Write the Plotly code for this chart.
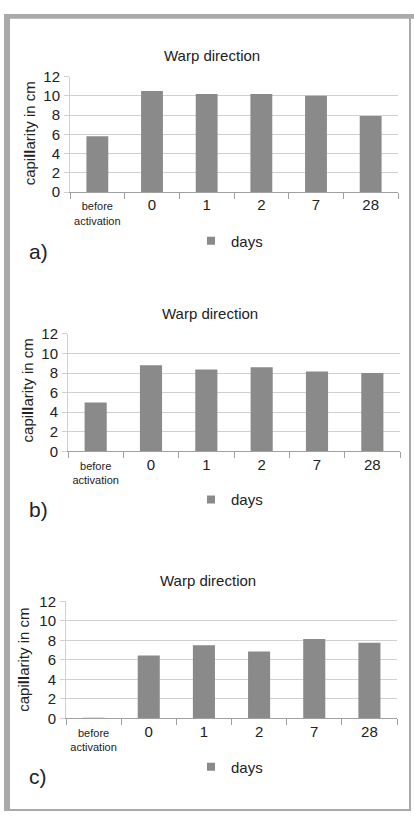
import plotly.graph_objects as go

W, H = 414, 821

categories = ["before activation", "0", "1", "2", "7", "28"]
tick_labels = ["before<br>activation", "<span style='font-size:15px'>0</span>",
               "<span style='font-size:15px'>1</span>", "<span style='font-size:15px'>2</span>",
               "<span style='font-size:15px'>7</span>", "<span style='font-size:15px'>28</span>"]
values_a = [5.8, 10.5, 10.2, 10.2, 10.0, 7.9]
values_b = [5.0, 8.8, 8.35, 8.6, 8.15, 8.0]
values_c = [0.05, 6.45, 7.5, 6.85, 8.15, 7.75]
panel_labels = ["a)", "b)", "c)"]
chart_title = "Warp direction"
y_title = "capi<b>ll</b>arity in cm"
legend_name = "days"
y_ticks = [0, 2, 4, 6, 8, 10, 12]

BAR = "#8a8a8a"
TXT = "#222222"
GRID = "#d0d0d0"
FRAME = "#aaaaaa"
FONT = "Liberation Sans, Arial, sans-serif"


def fx(x):
    return x / W


def fy(y):
    return 1 - y / H


panels = [
    dict(vals=values_a, x0=70, x1=398, yt=69, yb=187, tx=212, ty=47, yx=29, yy=127, ly=237, lab_y=248),
    dict(vals=values_b, x0=68, x1=400, yt=331.7, yb=451.7, tx=210, ty=311, yx=27.5, yy=390, ly=501, lab_y=511),
    dict(vals=values_c, x0=66, x1=397, yt=605, yb=724.3, tx=208, ty=583.5, yx=24, yy=664.5, ly=774, lab_y=784),
]

fig = go.Figure()
annotations = []
layout = {}
for i, p in enumerate(panels):
    n = "" if i == 0 else str(i + 1)
    xa, ya = "x" + n, "y" + n
    leg = "legend" + n
    fig.add_trace(go.Bar(x=categories, y=p["vals"], marker=dict(color=BAR, line=dict(width=0)),
                         xaxis=xa, yaxis=ya, showlegend=False, hoverinfo="skip"))
    fig.add_trace(go.Scatter(x=[None], y=[None], mode="markers", name=legend_name,
                             marker=dict(symbol="square", size=8, color=BAR),
                             xaxis=xa, yaxis=ya, legend=leg, showlegend=True))
    layout["xaxis" + n] = dict(
        domain=[fx(p["x0"]), fx(p["x1"])], anchor=ya, type="category",
        tickmode="array", tickvals=categories, ticktext=tick_labels, tickangle=0,
        showgrid=False, showline=True, linecolor="#a0a0a0", linewidth=1,
        ticks="outside", tickson="boundaries", ticklen=6, tickcolor="#a0a0a0",
        tickfont=dict(size=11, color=TXT, family=FONT), ticklabelstandoff=4,
        fixedrange=True, zeroline=False,
    )
    layout["yaxis" + n] = dict(
        domain=[fy(p["yb"]), fy(p["yt"])], anchor=xa, range=[0, 12],
        tickmode="array", tickvals=y_ticks,
        showgrid=True, gridcolor=GRID, gridwidth=1,
        showline=True, linecolor=GRID, linewidth=1,
        ticks="outside", ticklen=5, tickcolor=GRID,
        tickfont=dict(size=15, color=TXT, family=FONT), ticklabelstandoff=1,
        zeroline=False, fixedrange=True,
    )
    layout[leg] = dict(
        x=fx(232 - 41), y=fy(p["ly"]), xanchor="left", yanchor="middle",
        font=dict(size=15, color=TXT, family=FONT), bgcolor="rgba(0,0,0,0)",
        itemwidth=30, borderwidth=0,
    )
    annotations.append(dict(text=chart_title, x=fx(p["tx"]), y=fy(p["ty"]), xref="paper", yref="paper",
                            xanchor="center", yanchor="middle", showarrow=False,
                            font=dict(size=15, color=TXT, family=FONT)))
    annotations.append(dict(text=y_title, x=fx(p["yx"]), y=fy(p["yy"]), xref="paper", yref="paper",
                            xanchor="center", yanchor="middle", showarrow=False, textangle=-90,
                            font=dict(size=15, color=TXT, family=FONT)))
    annotations.append(dict(text=panel_labels[i], x=fx(27), y=fy(p["lab_y"]), xref="paper", yref="paper",
                            xanchor="left", yanchor="middle", showarrow=False,
                            font=dict(size=21, color=TXT, family=FONT)))

shapes = [
    dict(type="rect", xref="paper", yref="paper", x0=fx(4), x1=fx(414), y0=fy(10), y1=fy(5),
         fillcolor=FRAME, line=dict(width=0), layer="below"),
    dict(type="rect", xref="paper", yref="paper", x0=fx(4), x1=fx(10), y0=fy(819), y1=fy(5),
         fillcolor=FRAME, line=dict(width=0), layer="below"),
    dict(type="rect", xref="paper", yref="paper", x0=fx(4), x1=fx(411), y0=fy(819), y1=fy(817),
         fillcolor=FRAME, line=dict(width=0), layer="below"),
    dict(type="rect", xref="paper", yref="paper", x0=fx(409), x1=fx(411), y0=fy(819), y1=fy(5),
         fillcolor=FRAME, line=dict(width=0), layer="below"),
]

fig.update_layout(
    width=W, height=H, autosize=False,
    margin=dict(l=0, r=0, t=0, b=0, pad=0),
    paper_bgcolor="white", plot_bgcolor="white",
    bargap=0.6, showlegend=True,
    annotations=annotations, shapes=shapes,
    font=dict(family=FONT, color=TXT),
    **layout,
)

reset_page = ("document.documentElement.style.margin='0';document.documentElement.style.padding='0';"
              "document.body.style.margin='0';document.body.style.padding='0';"
              "document.body.style.overflow='hidden';")

fig.write_html("out.html", config={"displayModeBar": False, "staticPlot": True},
               post_script=reset_page)
